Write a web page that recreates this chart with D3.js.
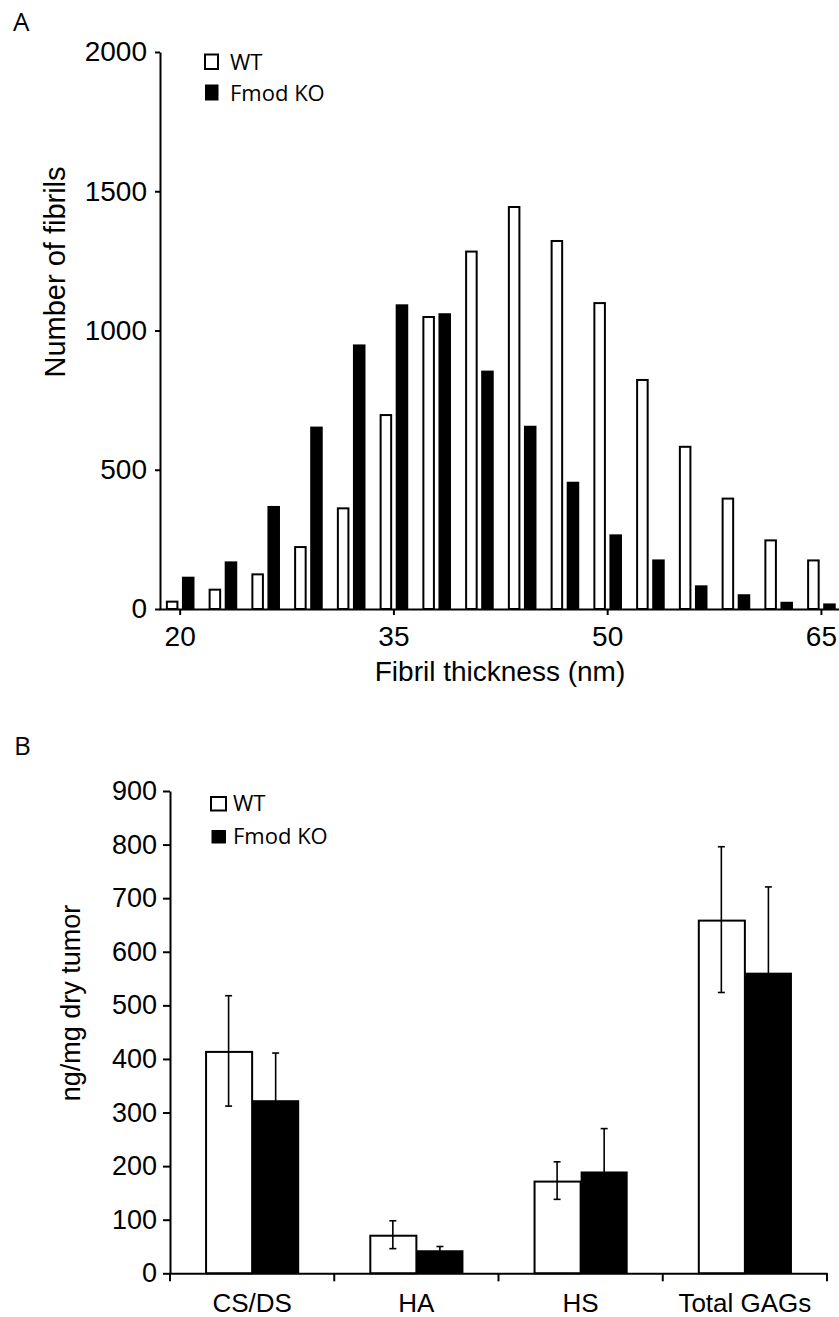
<!DOCTYPE html>
<html><head><meta charset="utf-8">
<script src="https://cdn.jsdelivr.net/npm/d3@7"></script>
<style>
body{margin:0;background:#fff}
svg text{fill:#000}
</style>
</head><body>
<svg id="chart" width="839" height="1317"></svg>
<script>
// ---------- Panel A data ----------
const thicknessCategories = [20, 23, 26, 29, 32, 35, 38, 41, 44, 47, 50, 53, 56, 59, 62, 65];
const thicknessTickLabels = [20, 35, 50, 65];
const wtFibrils = [30, 73, 128, 226, 365, 700, 1052, 1287, 1447, 1325, 1102, 826, 586, 400, 250, 178];
const koFibrils = [116, 171, 370, 655, 950, 1094, 1062, 856, 658, 457, 268, 178, 85, 53, 26, 20];
const fibrilYTicks = [0, 500, 1000, 1500, 2000];
const seriesNames = ["WT", "Fmod KO"];

// ---------- Panel B data ----------
const gagCategories = ["CS/DS", "HA", "HS", "Total GAGs"];
const wtGag = [415, 72, 173, 660];
const wtGagErr = [103, 26, 35, 136];
const koGag = [323, 43, 190, 561];
const koGagErr = [88, 7, 80, 160];
const gagYTicks = [0, 100, 200, 300, 400, 500, 600, 700, 800, 900];

const ARIAL = "'Liberation Sans', Arial, sans-serif";
const CALIBRI = "'Open Sans', sans-serif";
const svg = d3.select("#chart");
const fmt = d3.format("d");

function styleAxis(g, size) {
  g.selectAll("path.domain").attr("stroke", "#000").attr("stroke-width", 2);
  g.selectAll(".tick line").attr("stroke", "#000").attr("stroke-width", 2);
  g.selectAll(".tick text").attr("font-family", ARIAL).attr("font-size", size).attr("fill", "#000");
}

// ================= Panel A =================
const xA = d3.scaleBand().domain(thicknessCategories).range([158.8, 842.8]).paddingInner(0).paddingOuter(0);
const xA1 = d3.scaleBand().domain(seriesNames).range([0, xA.bandwidth()]).paddingInner(0.22).paddingOuter(0.44);
const yA = d3.scaleLinear().domain([0, 2000]).range([609, 52]);

const gA = svg.append("g");
const rowsA = thicknessCategories.map((c, i) => ({c, wt: wtFibrils[i], ko: koFibrils[i]}));

gA.selectAll("rect.wt").data(rowsA).join("rect")
  .attr("class", "wt")
  .attr("x", d => xA(d.c) + xA1("WT") + 1)
  .attr("width", xA1.bandwidth() - 2)
  .attr("y", d => yA(d.wt) + 1)
  .attr("height", d => yA(0) - yA(d.wt) - 1)
  .attr("fill", "#fff").attr("stroke", "#000").attr("stroke-width", 2);

gA.selectAll("rect.ko").data(rowsA).join("rect")
  .attr("class", "ko")
  .attr("x", d => xA(d.c) + xA1("Fmod KO"))
  .attr("width", xA1.bandwidth())
  .attr("y", d => yA(d.ko))
  .attr("height", d => yA(0) - yA(d.ko))
  .attr("fill", "#000");

const xAxisA = gA.append("g").attr("transform", `translate(0,${yA(0)})`)
  .call(d3.axisBottom(xA).tickValues(thicknessTickLabels).tickFormat(fmt).tickSize(6).tickSizeOuter(0).tickPadding(11));
styleAxis(xAxisA, 28);

const yAxisA = gA.append("g").attr("transform", `translate(${xA.range()[0] + 1.2},0)`)
  .call(d3.axisLeft(yA).tickValues(fibrilYTicks).tickFormat(fmt).tickSize(5).tickSizeOuter(0).tickPadding(8));
styleAxis(yAxisA, 28);

gA.append("text").attr("x", 500).attr("y", 681).attr("text-anchor", "middle")
  .attr("font-family", ARIAL).attr("font-size", 28).text("Fibril thickness (nm)");
gA.append("text").attr("transform", "translate(65,272) rotate(-90)").attr("text-anchor", "middle")
  .attr("font-family", ARIAL).attr("font-size", 29).text("Number of fibrils");

gA.append("text").attr("x", 13).attr("y", 31).attr("font-family", CALIBRI).attr("font-size", 26).text("A");

// legend A
gA.append("rect").attr("x", 205).attr("y", 54.5).attr("width", 13).attr("height", 14.5)
  .attr("fill", "#fff").attr("stroke", "#000").attr("stroke-width", 2);
gA.append("text").attr("x", 230).attr("y", 69.5).attr("font-family", CALIBRI).attr("font-size", 22).text(seriesNames[0]);
gA.append("rect").attr("x", 205).attr("y", 84.5).attr("width", 13.5).attr("height", 16)
  .attr("fill", "#000");
gA.append("text").attr("x", 230).attr("y", 101).attr("font-family", CALIBRI).attr("font-size", 22).text(seriesNames[1]);

// ================= Panel B =================
const xB = d3.scaleBand().domain(gagCategories).range([170, 827]).paddingInner(0).paddingOuter(0);
const xB1 = d3.scaleBand().domain(seriesNames).range([0, xB.bandwidth()]).paddingInner(0).paddingOuter(0.745);
const yB = d3.scaleLinear().domain([0, 900]).range([1273.3, 791]);

const gB = svg.append("g");
const rowsB = gagCategories.map((c, i) => ({c, wt: wtGag[i], wtE: wtGagErr[i], ko: koGag[i], koE: koGagErr[i]}));
const capW = 3.5;

function drawErr(parent, data) {
  const eg = parent.append("g").attr("stroke", "#000").attr("stroke-width", 1.6);
  eg.selectAll("line.v").data(data).join("line").attr("class", "v")
    .attr("x1", d => d.x).attr("x2", d => d.x)
    .attr("y1", d => yB(d.m - d.e)).attr("y2", d => yB(d.m + d.e));
  eg.selectAll("line.t").data(data).join("line").attr("class", "t")
    .attr("x1", d => d.x - capW).attr("x2", d => d.x + capW)
    .attr("y1", d => yB(d.m + d.e)).attr("y2", d => yB(d.m + d.e));
  eg.selectAll("line.b").data(data).join("line").attr("class", "b")
    .attr("x1", d => d.x - capW).attr("x2", d => d.x + capW)
    .attr("y1", d => yB(d.m - d.e)).attr("y2", d => yB(d.m - d.e));
}

// WT bars then WT error bars
gB.selectAll("rect.wt").data(rowsB).join("rect")
  .attr("class", "wt")
  .attr("x", d => xB(d.c) + xB1("WT") + 1)
  .attr("width", xB1.bandwidth() - 1)
  .attr("y", d => yB(d.wt) + 1)
  .attr("height", d => yB(0) - yB(d.wt) - 1)
  .attr("fill", "#fff").attr("stroke", "#000").attr("stroke-width", 2);
drawErr(gB, rowsB.map(d => ({x: xB(d.c) + xB1("WT") + xB1.bandwidth() / 2, m: d.wt, e: d.wtE})));

// KO error bars then KO bars (lower half hidden in the black bar)
drawErr(gB, rowsB.map(d => ({x: xB(d.c) + xB1("Fmod KO") + xB1.bandwidth() / 2, m: d.ko, e: d.koE})));
gB.selectAll("rect.ko").data(rowsB).join("rect")
  .attr("class", "ko")
  .attr("x", d => xB(d.c) + xB1("Fmod KO"))
  .attr("width", xB1.bandwidth())
  .attr("y", d => yB(d.ko))
  .attr("height", d => yB(0) - yB(d.ko))
  .attr("fill", "#000");

// x axis B (labels centered, ticks at category boundaries)
const xAxisB = gB.append("g").attr("transform", `translate(0,${yB(0)})`)
  .call(d3.axisBottom(xB).tickSize(0).tickSizeOuter(0).tickPadding(20));
styleAxis(xAxisB, 26);
const boundaries = gagCategories.map(c => xB(c)).concat([xB.range()[1]]);
xAxisB.selectAll("line.boundary").data(boundaries).join("line").attr("class", "boundary")
  .attr("x1", d => d).attr("x2", d => d).attr("y1", 0).attr("y2", 8)
  .attr("stroke", "#000").attr("stroke-width", 2);

const yAxisB = gB.append("g").attr("transform", `translate(${xB.range()[0]},0)`)
  .call(d3.axisLeft(yB).tickValues(gagYTicks).tickFormat(fmt).tickSize(7).tickSizeOuter(0).tickPadding(6));
styleAxis(yAxisB, 27);

gB.append("text").attr("transform", "translate(80,1003) rotate(-90)").attr("text-anchor", "middle")
  .attr("font-family", ARIAL).attr("font-size", 27).text("ng/mg dry tumor");

gB.append("text").attr("x", 14).attr("y", 755).attr("font-family", CALIBRI).attr("font-size", 26).text("B");

// legend B
gB.append("rect").attr("x", 211).attr("y", 797).attr("width", 15).attr("height", 13.5)
  .attr("fill", "#fff").attr("stroke", "#000").attr("stroke-width", 2);
gB.append("text").attr("x", 233).attr("y", 811).attr("font-family", CALIBRI).attr("font-size", 22).text(seriesNames[0]);
gB.append("rect").attr("x", 211.5).attr("y", 830).attr("width", 14.5).attr("height", 13.5)
  .attr("fill", "#000");
gB.append("text").attr("x", 233).attr("y", 843.5).attr("font-family", CALIBRI).attr("font-size", 22).text(seriesNames[1]);
</script>
</body></html>
